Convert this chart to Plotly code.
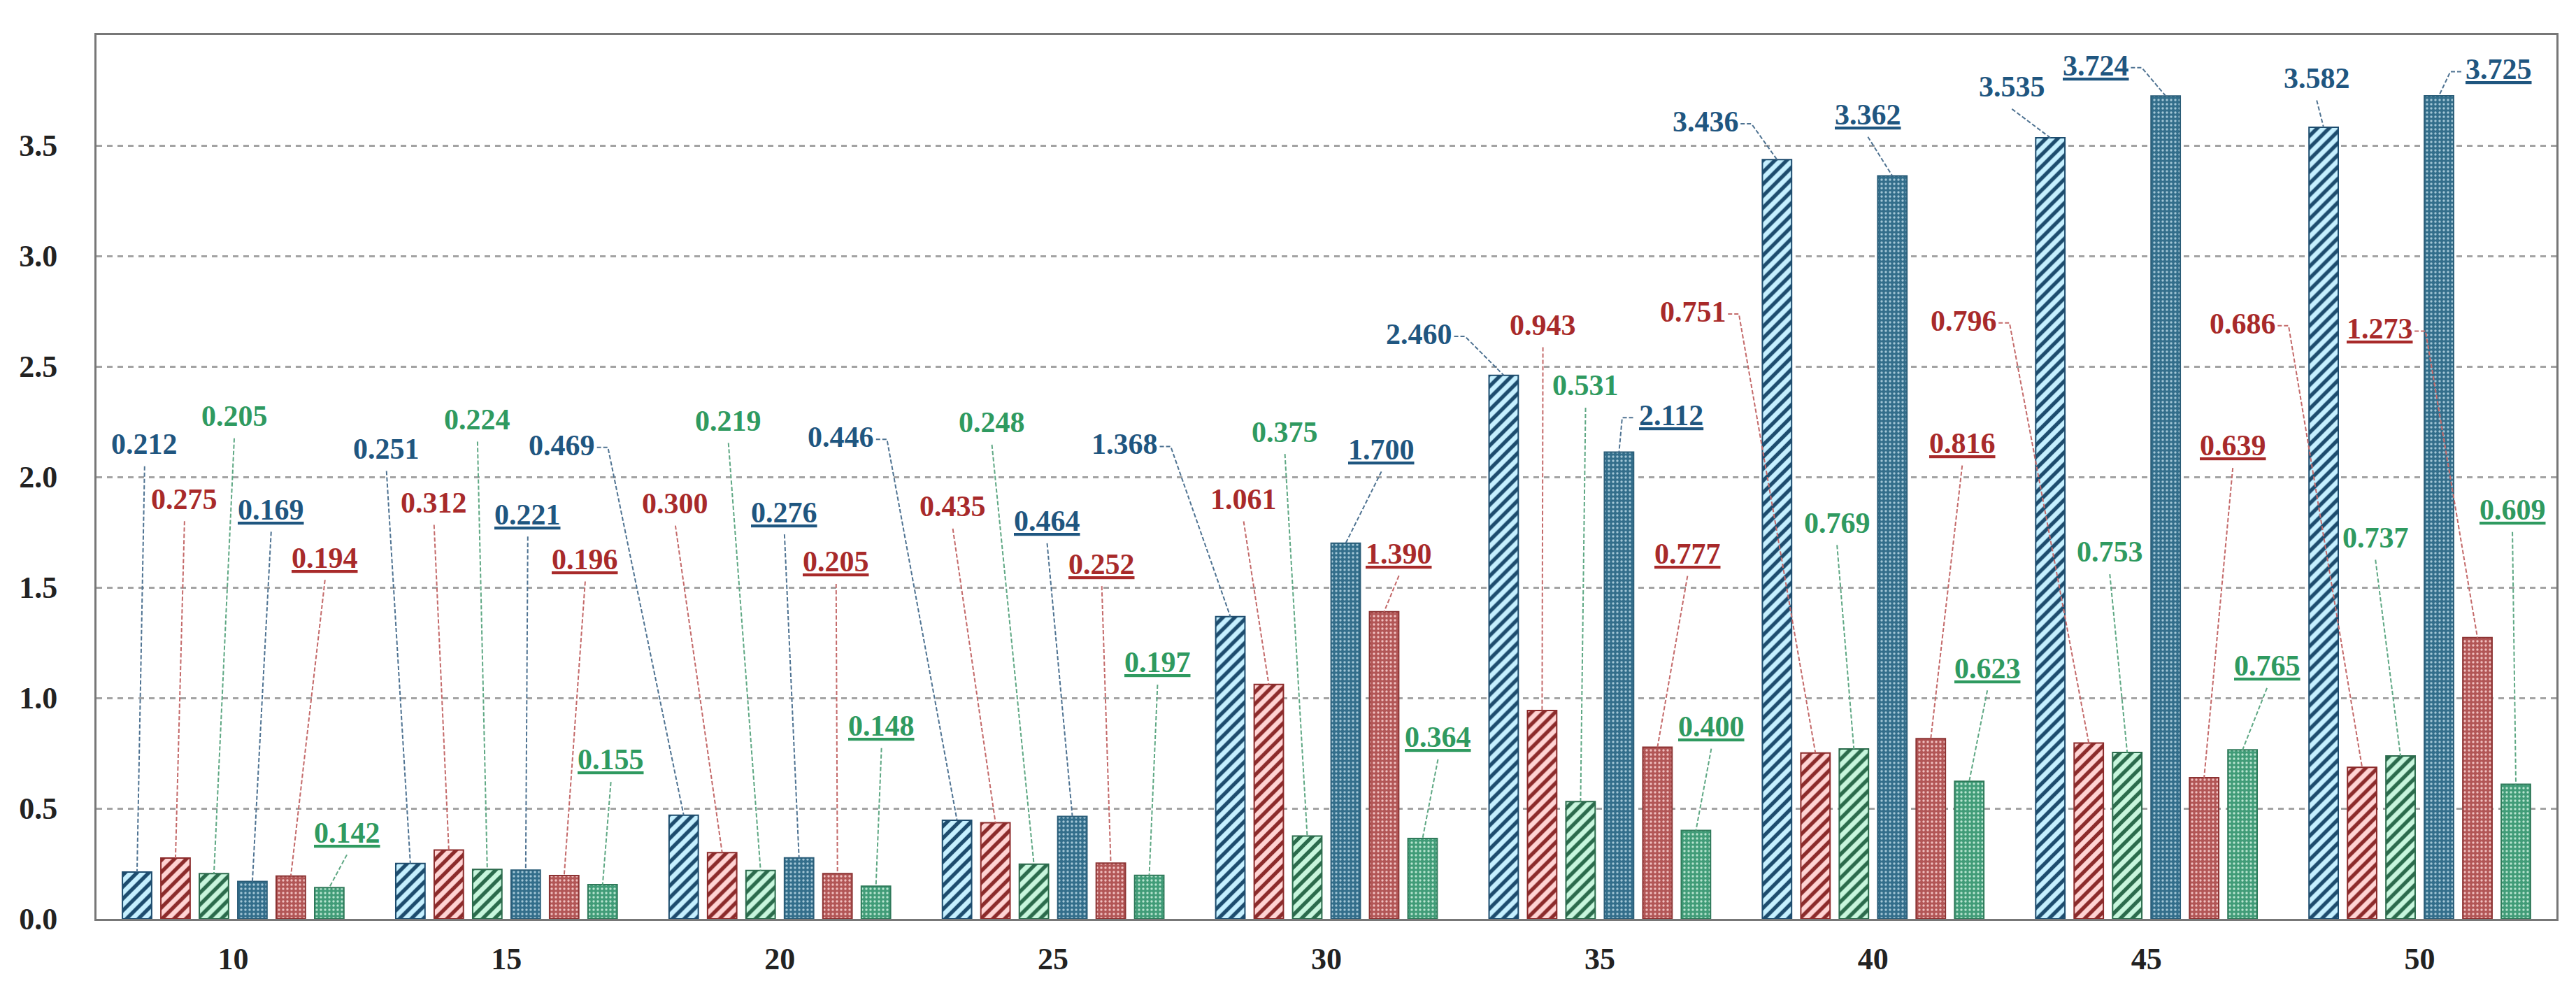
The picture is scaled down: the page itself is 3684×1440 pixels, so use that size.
import plotly.graph_objects as go

# ---------------- data ----------------
groups = ["10", "15", "20", "25", "30", "35", "40", "45", "50"]
blue_hatch = [0.212, 0.251, 0.469, 0.446, 1.368, 2.460, 3.436, 3.535, 3.582]
red_hatch = [0.275, 0.312, 0.300, 0.435, 1.061, 0.943, 0.751, 0.796, 0.686]
green_hatch = [0.205, 0.224, 0.219, 0.248, 0.375, 0.531, 0.769, 0.753, 0.737]
blue_dot = [0.169, 0.221, 0.276, 0.464, 1.700, 2.112, 3.362, 3.724, 3.725]
red_dot = [0.194, 0.196, 0.205, 0.252, 1.390, 0.777, 0.816, 0.639, 1.273]
green_dot = [0.142, 0.155, 0.148, 0.197, 0.364, 0.400, 0.623, 0.765, 0.609]
y_ticks = [0.0, 0.5, 1.0, 1.5, 2.0, 2.5, 3.0, 3.5]

# ---------------- label placement (x in category units, y in data units) ----------------
lab_x = [
    [-0.324, 0.561, 1.203, 2.224, 3.262, 4.339, 5.387, 6.508, 7.623],
    [-0.178, 0.735, 1.618, 2.633, 3.697, 4.792, 5.341, 6.331, 7.352],
    [0.004, 0.894, 1.812, 2.776, 3.848, 4.948, 5.868, 6.866, 7.838],
    [0.139, 1.078, 2.017, 2.978, 4.201, 5.260, 5.981, 6.815, 8.290],
    [0.336, 1.288, 2.206, 3.178, 4.265, 5.321, 6.326, 7.316, 7.853],
    [0.416, 1.382, 2.372, 3.382, 4.408, 5.408, 6.418, 7.441, 8.339],
]
lab_y = [
    [2.148, 2.127, 2.144, 2.180, 2.148, 2.646, 3.608, 3.765, 3.804],
    [1.900, 1.883, 1.880, 1.866, 1.899, 2.687, 2.747, 2.707, 2.694],
    [2.275, 2.260, 2.254, 2.246, 2.204, 2.413, 1.792, 1.660, 1.725],
    [1.852, 1.830, 1.840, 1.800, 2.124, 2.278, 3.639, 3.862, 3.844],
    [1.634, 1.627, 1.616, 1.606, 1.653, 1.652, 2.152, 2.141, 2.670],
    [0.390, 0.720, 0.873, 1.160, 0.822, 0.870, 1.134, 1.145, 1.851],
]
# leader anchor: b = below label, r = right side, l = left side
lab_anchor = [
    ["b", "b", "r", "r", "r", "r", "r", "b", "b"],
    ["b", "b", "b", "b", "b", "b", "r", "r", "r"],
    ["b", "b", "b", "b", "b", "b", "b", "b", "b"],
    ["b", "b", "b", "b", "b", "l", "b", "r", "l"],
    ["b", "b", "b", "b", "b", "b", "b", "b", "r"],
    ["b", "b", "b", "b", "b", "b", "b", "b", "b"],
]

series = [blue_hatch, red_hatch, green_hatch, blue_dot, red_dot, green_dot]

# ---------------- styles ----------------
styles = [
    dict(shape="/", fg="#1d4c6e", bg="#c6f0ff", line="#1d4c6e", txt="#1f5680", lead="#4f7392", ul=False),
    dict(shape="/", fg="#8c2b2b", bg="#ffd4d4", line="#8c2b2b", txt="#a82a2a", lead="#c46a6a", ul=False),
    dict(shape="/", fg="#2b6b4c", bg="#c8f6dd", line="#2b6b4c", txt="#2f9a60", lead="#5fa884", ul=False),
    dict(shape=".", fg="#a3c6d6", bg="#336e8b", line="#2a5d78", txt="#1f5680", lead="#4f7392", ul=True),
    dict(shape=".", fg="#f0c0c0", bg="#b25656", line="#8c3333", txt="#a82a2a", lead="#c46a6a", ul=True),
    dict(shape=".", fg="#b8e4cf", bg="#419c78", line="#2f7a5a", txt="#2f9a60", lead="#5fa884", ul=True),
]

BARGAP = 0.156
GROUPGAP = 0.24
NS = len(series)
FONT = "Liberation Serif"

fig = go.Figure()
xs = list(range(len(groups)))
for vals, st in zip(series, styles):
    if st["shape"] == "/":
        pat = dict(shape="/", fgcolor=st["fg"], bgcolor=st["bg"], size=12, solidity=0.45, fillmode="replace")
    else:
        pat = dict(shape=".", fgcolor=st["fg"], bgcolor=st["bg"], size=6, solidity=0.25, fillmode="replace")
    fig.add_trace(go.Bar(
        x=xs, y=vals,
        marker=dict(color=st["bg"], pattern=pat, line=dict(color=st["line"], width=2)),
        showlegend=False, hoverinfo="skip",
    ))

slot = (1 - BARGAP) / NS
half_w = 0.128   # half label width in category units
tick = 0.04
for si, (vals, st) in enumerate(zip(series, styles)):
    for gi, v in enumerate(vals):
        lx, ly, an = lab_x[si][gi], lab_y[si][gi], lab_anchor[si][gi]
        txt = f"{v:.3f}"
        if st["ul"]:
            txt = f"<u>{txt}</u>"
        fig.add_annotation(
            x=lx, y=ly, xref="x", yref="y", text=txt, showarrow=False,
            font=dict(family=FONT, size=42, color=st["txt"], weight="bold"),
        )
        bx = gi - (1 - BARGAP) / 2 + (si + 0.5) * slot
        if an == "b":
            path = f"M {lx},{ly - 0.1} L {bx},{v}"
        elif an == "r":
            sx = lx + half_w
            path = f"M {sx},{ly - 0.01} L {sx + tick},{ly - 0.01} L {bx},{v}"
        else:
            sx = lx - half_w - 0.01
            path = f"M {sx},{ly - 0.01} L {sx - tick},{ly - 0.01} L {bx},{v}"
        fig.add_shape(type="path", path=path, xref="x", yref="y",
                      line=dict(color=st["lead"], width=2, dash="6px,3px"))

fig.update_layout(
    width=3684, height=1440,
    margin=dict(l=130, r=36, t=42, b=134),
    paper_bgcolor="white", plot_bgcolor="white",
    barmode="group", bargap=BARGAP, bargroupgap=GROUPGAP,
    showlegend=False,
)
fig.update_xaxes(
    range=[-0.5, len(groups) - 0.5], tickvals=xs, ticktext=groups,
    showgrid=False, zeroline=False, showline=True, mirror=True,
    linecolor="#777777", linewidth=3, ticks="", ticklabelstandoff=16,
    tickfont=dict(family=FONT, size=44, color="#222222", weight="bold"),
)
fig.update_yaxes(
    range=[0, 4.0], tickvals=y_ticks, tickformat=".1f",
    showgrid=True, gridcolor="#a3a3a3", gridwidth=3, griddash="8px,7px",
    zeroline=False, showline=True, mirror=True,
    linecolor="#777777", linewidth=3, ticks="", ticklabelstandoff=44,
    tickfont=dict(family=FONT, size=44, color="#222222", weight="bold"),
)

fig.write_html("out.html")
